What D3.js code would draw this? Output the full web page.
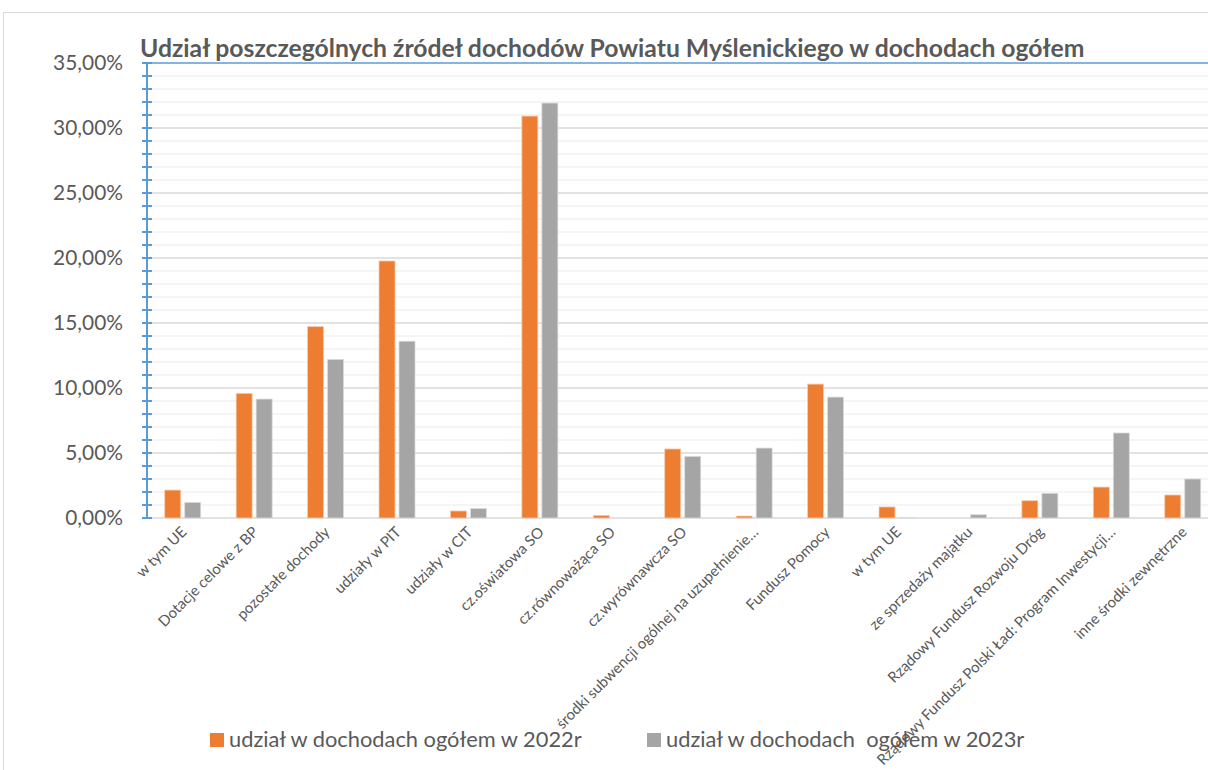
<!DOCTYPE html>
<html>
<head>
<meta charset="utf-8">
<script src="https://cdn.jsdelivr.net/npm/d3@7"></script>
<style>
  body { margin: 0; background: #fff; }
  svg { display: block; font-family: Lato, "Open Sans", sans-serif; }
</style>
</head>
<body>
<div id="chart"></div>
<script>
const categories = [
  'w tym UE',
  'Dotacje celowe z BP',
  'pozostałe dochody',
  'udziały w PIT',
  'udziały w CIT',
  'cz.oświatowa SO',
  'cz.równoważąca SO',
  'cz.wyrównawcza SO',
  'środki subwencji ogólnej na uzupełnienie…',
  'Fundusz Pomocy',
  'w tym UE',
  'ze sprzedaży majątku',
  'Rządowy Fundusz Rozwoju Dróg',
  'Rządowy Fundusz Polski Ład: Program Inwestycji…',
  'inne środki zewnętrzne'
];
const seriesNames = ['udział w dochodach ogółem w 2022r', 'udział w dochodach  ogółem w 2023r'];
const values2022 = [2.15, 9.59, 14.72, 19.77, 0.54, 30.92, 0.2, 5.31, 0.15, 10.3, 0.85, 0, 1.33, 2.38, 1.77];
const values2023 = [1.2, 9.15, 12.2, 13.6, 0.72, 31.92, 0, 4.74, 5.38, 9.3, 0.05, 0.25, 1.9, 6.54, 3.0];
const majorTicks = [0, 5, 10, 15, 20, 25, 30, 35];
const minorTicks = d3.range(0, 36, 1);
const title = 'Udział poszczególnych źródeł dochodów Powiatu Myślenickiego w dochodach ogółem';

const width = 1208, height = 770;
const colors = ['#ed7d31', '#a5a5a5'];
const textColor = '#595959';

const plLocale = d3.formatLocale({ decimal: ',', thousands: ' ', grouping: [3], currency: ['', ' zł'] });
const pct = plLocale.format('.2%');

const svg = d3.select('#chart').append('svg')
  .attr('width', width)
  .attr('height', height);

// outer chart border (runs off the picture on the right and bottom)
svg.append('rect')
  .attr('x', 3.5).attr('y', 12.5)
  .attr('width', 1400).attr('height', 900)
  .attr('fill', 'none')
  .attr('stroke', '#d9d9d9');

const plotLeft = 147, plotTop = 63, plotBottom = 518;
const x = d3.scaleBand()
  .domain(d3.range(categories.length))
  .range([plotLeft, plotLeft + 71.43 * categories.length]);
const x1 = d3.scaleBand()
  .domain([0, 1])
  .range([x.bandwidth() / 2 - 18, x.bandwidth() / 2 + 18])
  .paddingInner(0.2);
const y = d3.scaleLinear().domain([0, 35]).range([plotBottom, plotTop]);

// gridlines
svg.append('g').selectAll('line')
  .data(minorTicks.filter(d => d % 5 !== 0))
  .enter().append('line')
  .attr('x1', plotLeft).attr('x2', width)
  .attr('y1', d => y(d)).attr('y2', d => y(d))
  .attr('stroke', '#f2f2f2').attr('stroke-width', 1.5);

svg.append('g').selectAll('line')
  .data(majorTicks.filter(d => d > 0 && d < 35))
  .enter().append('line')
  .attr('x1', plotLeft).attr('x2', width)
  .attr('y1', d => y(d)).attr('y2', d => y(d))
  .attr('stroke', '#d9d9d9').attr('stroke-width', 1.5);

// baseline + top line
svg.append('line')
  .attr('x1', plotLeft).attr('x2', width)
  .attr('y1', y(0)).attr('y2', y(0))
  .attr('stroke', '#d9d9d9').attr('stroke-width', 1.5);
svg.append('line')
  .attr('x1', plotLeft).attr('x2', width)
  .attr('y1', y(35)).attr('y2', y(35))
  .attr('stroke', '#5b9bd5').attr('stroke-width', 1.5);

// bars
const rows = categories.map((c, i) => ({ i, vals: [values2022[i], values2023[i]] }));
const groups = svg.append('g').selectAll('g')
  .data(rows)
  .enter().append('g')
  .attr('transform', d => `translate(${x(d.i)},0)`);

groups.selectAll('rect')
  .data(d => d.vals.map((v, s) => ({ v, s })))
  .enter().append('rect')
  .filter(d => d.v > 0)
  .attr('x', d => x1(d.s))
  .attr('width', x1.bandwidth())
  .attr('y', d => y(d.v))
  .attr('height', d => y(0) - y(d.v))
  .attr('fill', d => colors[d.s])
  .attr('stroke', d => d.s === 0 ? '#f8cbad' : '#dbdbdb')
  .attr('stroke-width', 0.8);

// y axis with cross ticks
const yAxis = svg.append('g').attr('transform', `translate(${plotLeft},0)`);
yAxis.append('line')
  .attr('x1', 0).attr('x2', 0)
  .attr('y1', y(0) + 1).attr('y2', y(35) - 1)
  .attr('stroke', '#5b9bd5').attr('stroke-width', 2);
yAxis.selectAll('line.tick')
  .data(minorTicks)
  .enter().append('line')
  .attr('class', 'tick')
  .attr('x1', -5).attr('x2', 5)
  .attr('y1', d => y(d)).attr('y2', d => y(d))
  .attr('stroke', '#5b9bd5').attr('stroke-width', 2);

// fits a group of labels so a reference string reaches a target width
function fit(sel, refIndex, target) {
  const node = sel.nodes()[refIndex];
  const w = node.getComputedTextLength();
  const fs = parseFloat(sel.attr('font-size'));
  sel.attr('font-size', fs * target / w);
}

const yLabels = svg.append('g').selectAll('text')
  .data(majorTicks)
  .enter().append('text')
  .attr('x', 123)
  .attr('y', d => y(d))
  .attr('dy', '0.35em')
  .attr('text-anchor', 'end')
  .attr('font-size', 20)
  .attr('fill', textColor)
  .text(d => pct(d / 100));
fit(yLabels, 7, 70);

// x labels
const xLabels = svg.append('g').selectAll('text')
  .data(rows)
  .enter().append('text')
  .attr('transform', d => `translate(${x(d.i) + x.bandwidth() / 2 + 5},${533}) rotate(-45)`)
  .attr('text-anchor', 'end')
  .attr('font-size', 12)
  .attr('fill', textColor)
  .text(d => categories[d.i]);
fit(xLabels, 1, 134);

// title
const titleText = svg.append('text')
  .attr('x', 140).attr('y', 57)
  .attr('font-size', 22)
  .attr('font-weight', 'bold')
  .attr('fill', textColor)
  .text(title);
fit(titleText, 0, 945);

// legend
const legendX = [210, 647];
const legend = svg.append('g').selectAll('g')
  .data(seriesNames)
  .enter().append('g')
  .attr('transform', (d, i) => `translate(${legendX[i]},733)`);
legend.append('rect')
  .attr('width', 14).attr('height', 14)
  .attr('fill', (d, i) => colors[i]);
const legendText = legend.append('text')
  .attr('x', 19).attr('y', 14)
  .attr('font-size', 22)
  .attr('fill', textColor)
  .style('white-space', 'pre')
  .text(d => d);
fit(legendText, 0, 353);
</script>
</body>
</html>
